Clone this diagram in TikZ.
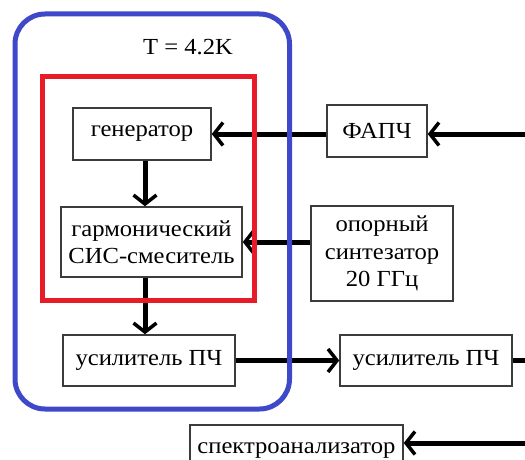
\documentclass[tikz,border=0pt]{standalone}
\usepackage{fontspec}
\setmainfont[FakeStretch=1.07]{Liberation Serif}
\usetikzlibrary{arrows.meta}
\definecolor{cryoblue}{RGB}{62,72,200}
\definecolor{chipred}{RGB}{232,28,40}
\definecolor{boxgray}{RGB}{60,60,60}
\begin{document}
\begin{tikzpicture}[x=1pt,y=-1pt,
  block/.style={draw=boxgray, line width=1.5pt, fill=white, inner sep=0pt,
    font=\fontsize{23}{27.5}\selectfont, align=center},
  flow/.style={line width=5pt,
    -{Straight Barb[length=9pt,width=23pt,line width=3.5pt]}},
  container/.style={line width=5pt}]
\useasboundingbox (0,0) rectangle (525,460);

% functional blocks
\node[block, minimum width=138pt, minimum height=52pt] (gen) at (142,134) {генератор};
\node[block, minimum width=181pt, minimum height=70pt] (mix) at (151.5,242) {гармонический\\СИС-смеситель};
\node[block, minimum width=172pt, minimum height=51pt] (amp1) at (149,360.5) {усилитель ПЧ};
\node[block, minimum width=172pt, minimum height=51pt] (amp2) at (426,360.5) {усилитель ПЧ};
\node[block, minimum width=100pt, minimum height=52pt] (pll) at (377,131) {ФАПЧ};
\node[block, minimum width=142pt, minimum height=95pt] (synth) at (382,253.5) {опорный\\синтезатор\\20 ГГц};
\node[block, minimum width=213pt, minimum height=52pt] (spec) at (296.5,451) {спектроанализатор};

% temperature label
\node[font=\fontsize{23}{27.5}\selectfont] (temp) at (188,47) {T = 4.2K};

% signals entering and leaving at the right border
\coordinate (pllin) at (540,134);
\coordinate (ifout) at (540,360.5);
\coordinate (specin) at (540,443);

% signal paths
\draw[flow] (pllin) -- (pllin -| pll.east);
\draw[flow] (pll.west |- gen.east) -- (gen.east);
\draw[flow] (synth.west |- mix.east) -- (mix.east);
\draw[flow] ([xshift=3pt]gen.south) -- ([xshift=3pt]gen.south |- mix.north);
\draw[flow] ([xshift=3pt]gen.south |- mix.south) -- ([xshift=3pt]gen.south |- amp1.north);
\draw[flow] (amp1.east) -- (amp2.west);
\draw[line width=5pt] (amp2.east) -- (ifout);
\draw[flow] (specin) -- (specin -| spec.east);

% cryostat (4.2 K) and chip outlines, drawn over the signal lines
\draw[container, chipred] (42.5,77) rectangle (254,300);
\draw[container, cryoblue, rounded corners=30pt] (15,14) rectangle (289.5,409);
\end{tikzpicture}
\end{document}
